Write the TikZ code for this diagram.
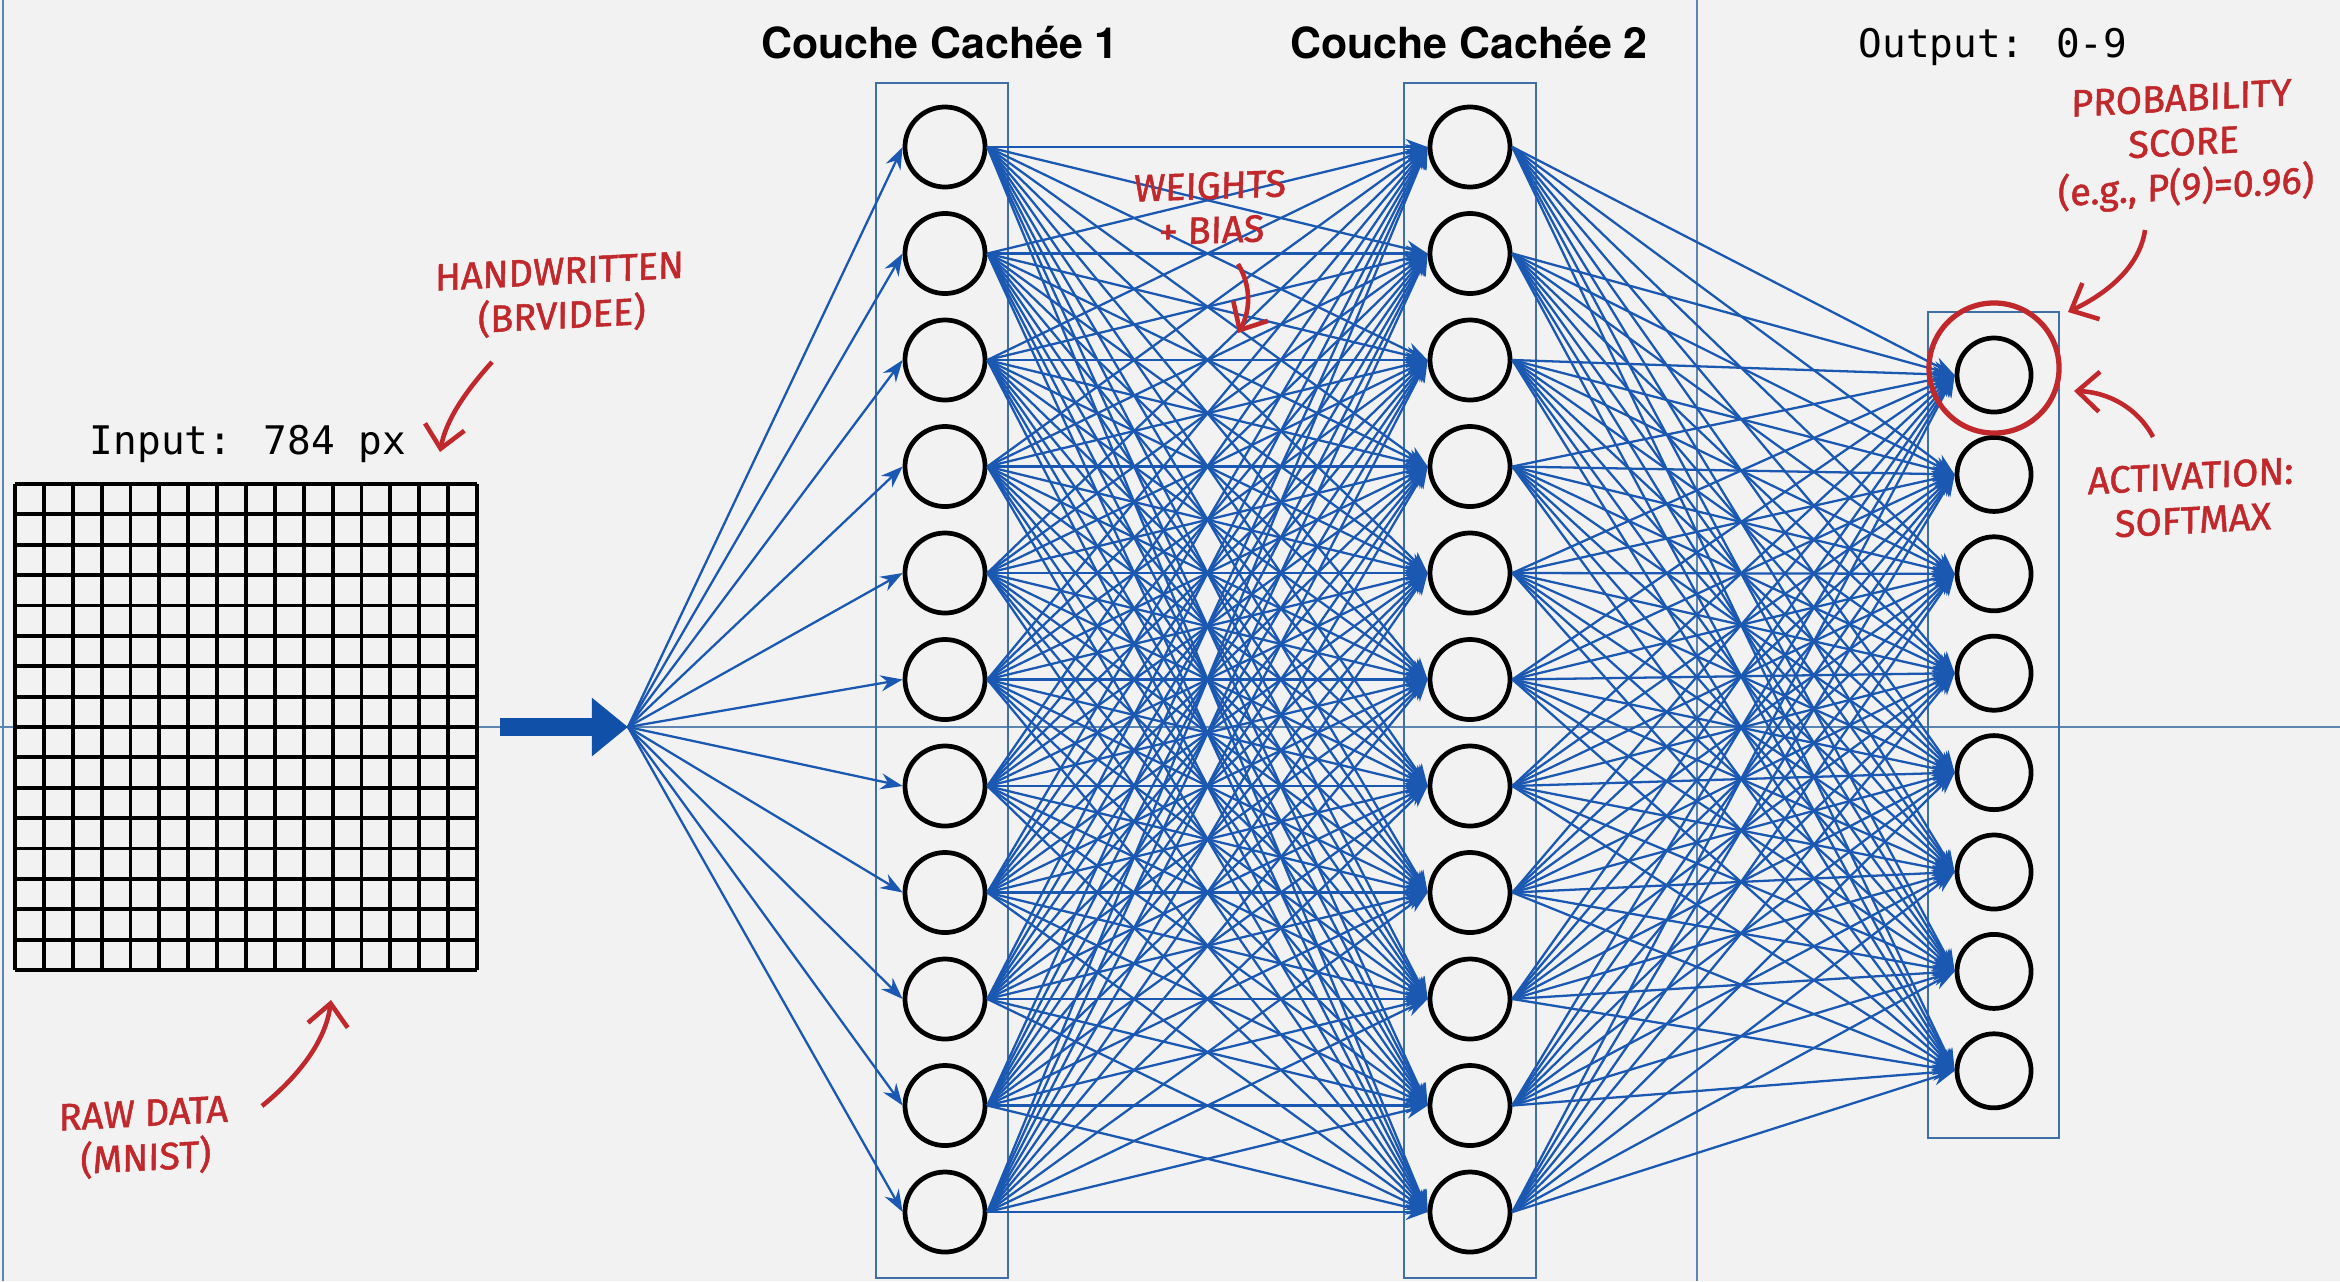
\documentclass[tikz,border=0pt]{standalone}
\usepackage{fontspec}
\setmainfont{TeX Gyre Heros}
\newfontfamily\headfont{TeX Gyre Heros}
\newfontfamily\codefont{DejaVu Sans Mono}
\newfontfamily\handfont{Fira Sans}[FakeBold=1.3, FakeSlant=0.06]
\usetikzlibrary{arrows.meta}

\definecolor{bgc}{HTML}{F2F2F2}
\definecolor{edgeblue}{HTML}{1B58B2}
\definecolor{frameblue}{HTML}{3F6FA5}
\definecolor{annotred}{HTML}{C0282C}
\definecolor{thickblue}{HTML}{1150A8}

\begin{document}
\begin{tikzpicture}[x=0.01cm,y=-0.01cm,
  neuron/.style={circle, draw=black, line width=1.35pt, fill=bgc, minimum size=0.8cm, inner sep=0pt},
  outneuron/.style={neuron, minimum size=0.74cm},
  layerbox/.style={draw=frameblue, line width=0.6pt},
  guide/.style={draw=frameblue!85, line width=0.7pt},
  gridline/.style={draw=black, line width=1.1pt},
  wire/.style={draw=edgeblue, line width=0.65pt, -{Stealth[length=2.2mm,width=1.6mm]}},
  header/.style={font=\headfont\bfseries\fontsize{12.2}{14}\selectfont, anchor=base},
  codelabel/.style={font=\codefont\fontsize{11.2}{13}\selectfont, anchor=base},
  note/.style={text=annotred, font=\handfont\fontsize{10.8}{12.6}\selectfont, align=center, inner sep=0pt},
  notearrow/.style={draw=annotred, line width=1.3pt, -{Straight Barb[length=2.2mm,width=4mm]}},
]
% canvas
\fill[bgc] (0,0) rectangle (2340,1281);
\useasboundingbox (0,0) rectangle (2340,1281);

% guide lines
\draw[guide] (3,0) -- (3,1281);
\draw[guide] (1697,0) -- (1697,1281);
\draw[guide] (0,727) -- (2340,727);

% input image: 16 x 16 pixel grid
\node[inner sep=0pt, minimum width=4.62cm, minimum height=4.86cm] (input) at (246,727) {};
\foreach \k in {0,...,16} {
  \draw[gridline] ({15+\k*28.875},484) -- ({15+\k*28.875},970);
  \draw[gridline] (15,{484+\k*30.375}) -- (477,{484+\k*30.375});
}
\node[codelabel] (inlabel) at (248,454) {Input: 784 px};

% layer frames
\draw[layerbox] (876,83) rectangle (1008,1278);
\draw[layerbox] (1404,83) rectangle (1536,1278);
\draw[layerbox] (1928,312) rectangle (2059,1138);

% headers
\node[header] (t1) at (940,58) {Couche Cachée 1};
\node[header] (t2) at (1469,58) {Couche Cachée 2};
\node[codelabel] (tout) at (1993,57) {Output: 0-9};

% neurons
\foreach \i in {1,...,11} {
  \node[neuron] (h1-\i) at (945,{147+106.5*(\i-1)}) {};
  \node[neuron] (h2-\i) at (1470,{147+106.5*(\i-1)}) {};
}
\foreach \j in {1,...,8} {
  \node[outneuron] (o-\j) at (1994,{375+99.4*(\j-1)}) {};
}

% thick input arrow and fan-out
\coordinate (astart) at (500,727);
\coordinate (fan) at (628,727);
\draw[thickblue, line width=5pt, -{Triangle[length=3.6mm,width=5.6mm]}] (astart) -- (fan);
\foreach \i in {1,...,11} {
  \draw[wire] (fan) -- (h1-\i.west);
}

% dense connections
\foreach \i in {1,...,11} {
  \foreach \j in {1,...,11} {
    \draw[wire] (h1-\i.east) -- (h2-\j.west);
  }
}
\foreach \i in {1,...,11} {
  \foreach \j in {1,...,8} {
    \draw[wire] (h2-\i.east) -- (o-\j.west);
  }
}

% highlighted output
\node[circle, draw=annotred, line width=1.5pt, minimum size=1.3cm, inner sep=0pt] (hl) at (1994,368) {};

% annotations
\node[note, rotate=3] (hw) at (560,296) {HANDWRITTEN\\(BRVIDEE)};
\coordinate (hwa) at (492,362);
\coordinate (hwb) at (440,452);
\draw[notearrow] (hwa) .. controls (465,392) and (446,420) .. (hwb);

\node[note, rotate=3] (raw) at (144,1138) {RAW DATA\\(MNIST)};
\coordinate (rawa) at (262,1106);
\coordinate (rawb) at (331,1000);
\draw[notearrow] (rawa) .. controls (300,1075) and (326,1040) .. (rawb);

\node[note, rotate=2] (wb) at (1210,208) {WEIGHTS\\+ BIAS};
\coordinate (wba) at (1238,264);
\coordinate (wbb) at (1238,333);
\draw[notearrow] (wba) .. controls (1252,287) and (1250,312) .. (wbb);

\node[note, rotate=3] (prob) at (2183,146) {PROBABILITY\\SCORE\\(e.g., P(9)=0.96)};
\coordinate (proba) at (2145,230);
\coordinate (probb) at (2068,312);
\draw[notearrow] (proba) .. controls (2140,265) and (2110,292) .. (probb);

\node[note, rotate=3] (act) at (2191,498) {ACTIVATION:\\SOFTMAX};
\coordinate (acta) at (2153,437);
\coordinate (actb) at (2074,391);
\draw[notearrow] (acta) .. controls (2138,408) and (2108,392) .. (actb);
\end{tikzpicture}
\end{document}
